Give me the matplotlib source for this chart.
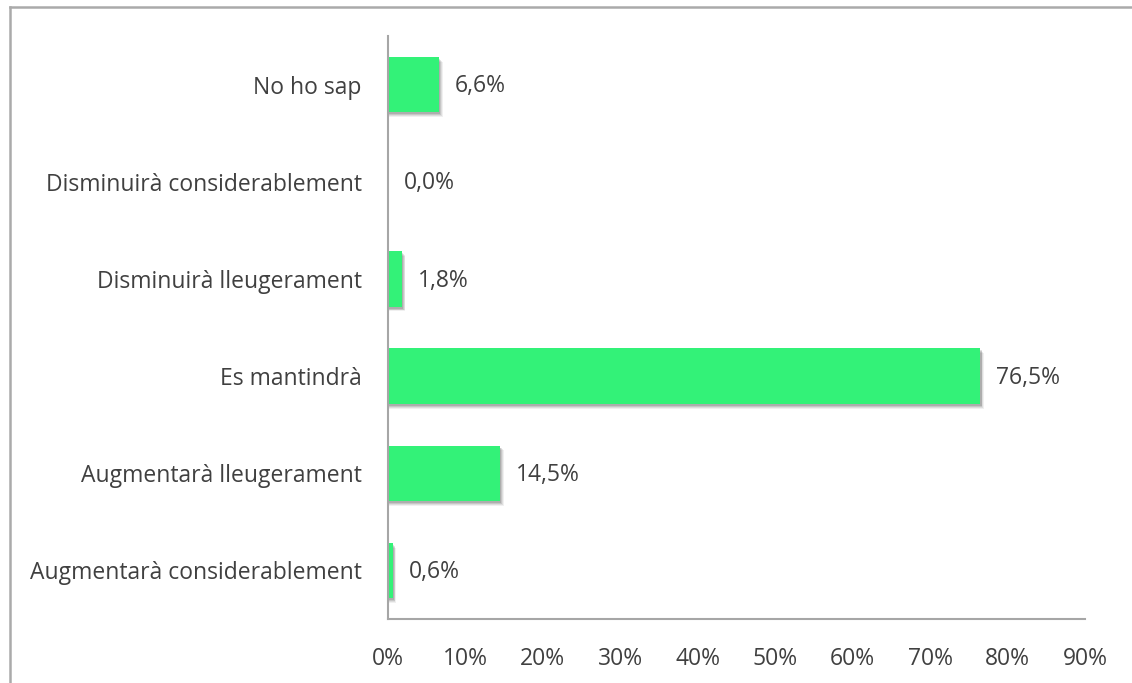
import matplotlib
matplotlib.use("Agg")
import matplotlib.pyplot as plt
from matplotlib.lines import Line2D

categories = ["Augmentarà considerablement", "Augmentarà lleugerament", "Es mantindrà",
              "Disminuirà lleugerament", "Disminuirà considerablement", "No ho sap"]
values = [0.6, 14.5, 76.5, 1.8, 0.0, 6.6]
xticks = [0, 10, 20, 30, 40, 50, 60, 70, 80, 90]
xticklabels = [f"{t}%" for t in xticks]
value_labels = [f"{v:.1f}%".replace(".", ",") for v in values]

plt.rcParams['font.family'] = ['Open Sans', 'DejaVu Sans']
text_color = '#404040'
bar_color = '#33F278'
fs = 16.5

fig = plt.figure(figsize=(11.32, 6.83), dpi=100)
W, H = 1132, 683
ax_left, ax_right, ax_top, ax_bottom = 388, 1085, 36, 619
ax = fig.add_axes([ax_left / W, 1 - ax_bottom / H, (ax_right - ax_left) / W, (ax_bottom - ax_top) / H])

ypos = list(range(len(categories)))
bh = 0.57

# soft shadows
for dx, dy, a in [(0.45, -0.05, 0.06), (0.35, -0.04, 0.08), (0.25, -0.03, 0.10), (0.15, -0.02, 0.12)]:
    ax.barh([y + dy for y in ypos], [v + dx if v > 0 else 0 for v in values], height=bh,
            color='black', alpha=a, linewidth=0, zorder=1)
ax.barh(ypos, values, height=bh, color=bar_color, linewidth=0, zorder=2)

for y, v, lab in zip(ypos, values, value_labels):
    ax.annotate(lab, xy=(v, y), xytext=(11.5, -1.2), textcoords='offset points',
                ha='left', va='center', fontsize=fs, color=text_color)

ax.set_xlim(0, 90)
ax.set_ylim(-0.5, len(categories) - 0.5)
ax.set_xticks(xticks)
ax.set_xticklabels(xticklabels)
ax.set_yticks(ypos)
ax.set_yticklabels(categories)
ax.tick_params(axis='both', length=0, labelsize=fs, labelcolor=text_color)
ax.tick_params(axis='x', pad=20)
ax.tick_params(axis='y', pad=19)
for s in ['top', 'right']:
    ax.spines[s].set_visible(False)
for s in ['left', 'bottom']:
    ax.spines[s].set_color('#A6A6A6')
    ax.spines[s].set_linewidth(1.5)

# outer border (clipped on right and bottom)
fig.add_artist(Line2D([10 / W, 1.0], [1 - 7 / H, 1 - 7 / H], transform=fig.transFigure,
                      color='#AAAAAA', linewidth=1.8))
fig.add_artist(Line2D([10 / W, 10 / W], [1 - 7 / H, 0.0], transform=fig.transFigure,
                      color='#AAAAAA', linewidth=1.8))

fig.savefig("out.png", dpi=100, facecolor='white')
